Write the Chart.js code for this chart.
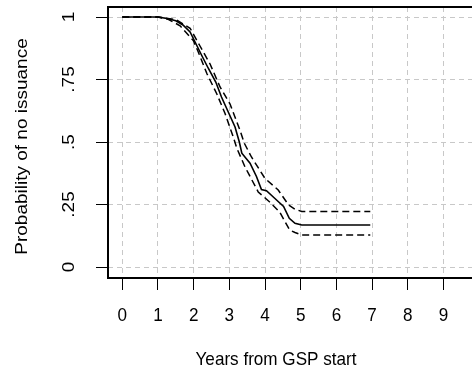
<!DOCTYPE html>
<html lang="en">

<head>
    <meta charset="UTF-8">
    <title>Probability of no issuance</title>
    <script src="https://cdn.jsdelivr.net/npm/chart.js"></script>
    <style>
        html, body { margin: 0; padding: 0; background: #fff; }
        #wrap { width: 472px; height: 377px; position: relative; }
    </style>
</head>

<body>
    <div id="wrap"><canvas id="kmChart"></canvas></div>

    <script>
        // Kaplan-Meier estimate and its confidence band
        const survTime = [0, 1.0, 1.25, 1.5, 1.7, 1.9, 2.04, 2.22, 2.41, 2.62, 2.78, 2.97, 3.16, 3.28, 3.35, 3.58, 3.76, 3.9, 4.04, 4.27, 4.52, 4.68, 4.84, 5.03, 6.95];
        const survProb = [1, 1, 0.994, 0.985, 0.968, 0.94, 0.90, 0.848, 0.795, 0.74, 0.68, 0.62, 0.56, 0.50, 0.455, 0.415, 0.362, 0.31, 0.305, 0.275, 0.242, 0.195, 0.175, 0.168, 0.168];

        const upperTime = [0, 1.0, 1.5, 1.9, 2.17, 2.46, 2.74, 3.02, 3.3, 3.42, 3.62, 4.0, 4.37, 4.66, 4.84, 5.03, 6.95];
        const upperProb = [1, 1, 0.99, 0.955, 0.886, 0.812, 0.72, 0.652, 0.546, 0.495, 0.44, 0.354, 0.308, 0.248, 0.231, 0.222, 0.222];

        const lowerTime = [0, 1.0, 1.3, 1.62, 1.99, 2.13, 2.37, 2.65, 2.88, 3.11, 3.21, 3.44, 3.81, 4.13, 4.41, 4.69, 4.84, 5.03, 6.95];
        const lowerProb = [1, 1, 0.99, 0.965, 0.906, 0.86, 0.774, 0.692, 0.614, 0.52, 0.475, 0.40, 0.30, 0.26, 0.22, 0.148, 0.138, 0.128, 0.128];

        const xTicks = [0, 1, 2, 3, 4, 5, 6, 7, 8, 9];
        const yTicks = [0, 0.25, 0.5, 0.75, 1];
        const yTickLabels = ['0', '.25', '.5', '.75', '1'];

        const xTitle = 'Years from GSP start';
        const yTitle = 'Probability of no issuance';

        const FONT = '"Liberation Sans", Arial, Helvetica, sans-serif';
        const SQUISH = 0.9; // text in the picture looks a bit narrow

        function toPoints(xs, ys) {
            return xs.map((x, i) => ({ x: x, y: ys[i] }));
        }

        function text(ctx, str, x, y, rot) {
            ctx.save();
            ctx.translate(x, y);
            ctx.scale(SQUISH, 1);
            if (rot) ctx.rotate(-Math.PI / 2);
            ctx.fillText(str, 0, 0);
            ctx.restore();
        }

        // box, tick labels and axis titles
        const frame = {
            id: 'frame',
            afterDraw(chart) {
                const { ctx, chartArea: a } = chart;
                const xs = chart.scales.x;
                const ys = chart.scales.y;
                ctx.save();
                ctx.strokeStyle = '#000';
                ctx.lineWidth = 2;
                ctx.beginPath();
                ctx.moveTo(a.right + 2, a.top);
                ctx.lineTo(a.left, a.top);
                ctx.lineTo(a.left, a.bottom);
                ctx.lineTo(a.right + 2, a.bottom);
                ctx.stroke();

                ctx.fillStyle = '#000';
                ctx.font = '19px ' + FONT;
                ctx.textAlign = 'center';
                ctx.textBaseline = 'middle';
                yTicks.forEach((v, i) => text(ctx, yTickLabels[i], 69, ys.getPixelForValue(v), true));
                xTicks.forEach(v => text(ctx, String(v), xs.getPixelForValue(v), 316, false));

                text(ctx, yTitle, 22, (a.top + a.bottom) / 2 + 4, true);
                text(ctx, xTitle, 276, 360, false);
                ctx.restore();
            }
        };

        const ctx = document.getElementById('kmChart').getContext('2d');
        new Chart(ctx, {
            type: 'line',
            data: {
                datasets: [
                    {
                        label: 'upper',
                        data: toPoints(upperTime, upperProb),
                        borderColor: '#000',
                        borderWidth: 1.5,
                        borderDash: [7, 4],
                        pointRadius: 0,
                        tension: 0,
                        fill: false
                    },
                    {
                        label: 'lower',
                        data: toPoints(lowerTime, lowerProb),
                        borderColor: '#000',
                        borderWidth: 1.5,
                        borderDash: [7, 4],
                        pointRadius: 0,
                        tension: 0,
                        fill: false
                    },
                    {
                        label: 'survivor',
                        data: toPoints(survTime, survProb),
                        borderColor: '#000',
                        borderWidth: 1.6,
                        pointRadius: 0,
                        tension: 0,
                        fill: false
                    }
                ]
            },
            options: {
                responsive: true,
                maintainAspectRatio: false,
                animation: false,
                layout: { padding: { top: 7, right: 0, left: 0, bottom: 0 } },
                plugins: {
                    legend: { display: false },
                    tooltip: { enabled: false }
                },
                scales: {
                    x: {
                        type: 'linear',
                        min: -0.4,
                        max: 9.8,
                        afterBuildTicks: s => { s.ticks = xTicks.map(v => ({ value: v })); },
                        afterFit: s => { s.height = 99; },
                        border: { display: false, dash: [5, 4] },
                        grid: {
                            color: '#c8c8c8',
                            lineWidth: 1,
                            tickLength: 12,
                            tickColor: '#000',
                            tickWidth: 1
                        },
                        ticks: { display: false }
                    },
                    y: {
                        type: 'linear',
                        min: -0.044,
                        max: 1.04,
                        afterBuildTicks: s => { s.ticks = yTicks.map(v => ({ value: v })); },
                        afterFit: s => { s.width = 108; },
                        border: { display: false, dash: [5, 4] },
                        grid: {
                            color: '#c8c8c8',
                            lineWidth: 1,
                            tickLength: 12,
                            tickColor: '#000',
                            tickWidth: 1
                        },
                        ticks: { display: false }
                    }
                }
            },
            plugins: [frame]
        });
    </script>

</body>

</html>
